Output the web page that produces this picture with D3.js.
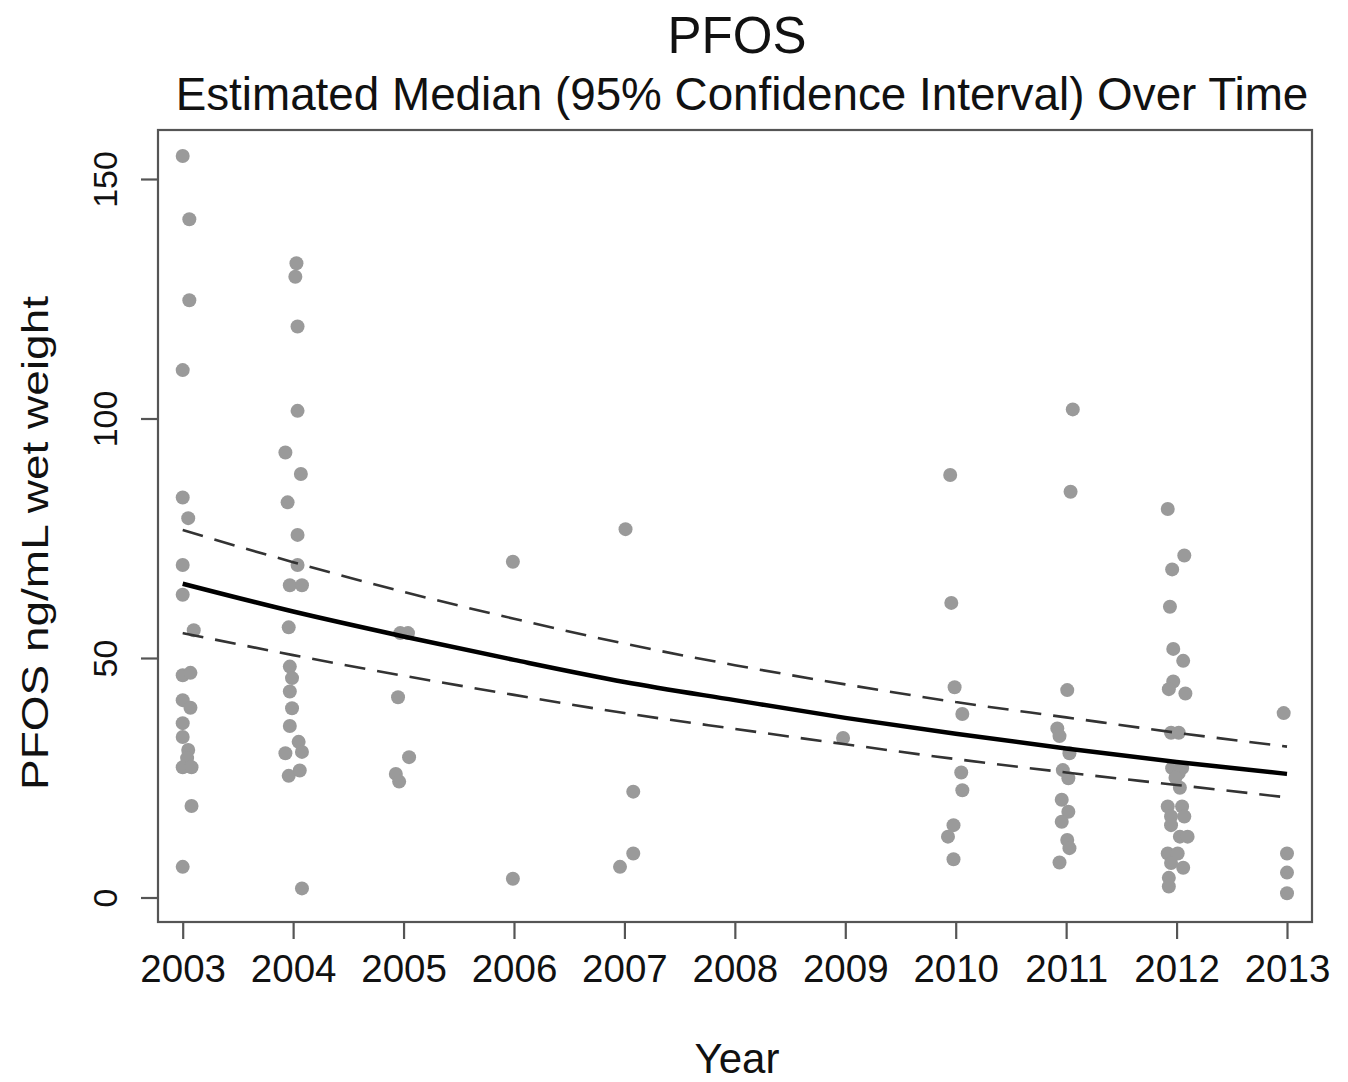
<!DOCTYPE html>
<html><head><meta charset="utf-8">
<script src="https://cdn.jsdelivr.net/npm/d3@7"></script>
<style>body{margin:0;background:#fff}svg{display:block}text{font-family:"Liberation Sans",Arial,sans-serif;fill:#111}</style>
</head><body>
<svg id="c" width="1348" height="1082"></svg>
<script>
// ---- data ----
const yearTicks = [2003,2004,2005,2006,2007,2008,2009,2010,2011,2012,2013];
const valueTicks = [0,50,100,150];
// observed samples: jittered year position, PFOS value
const sampleYears = [
 2003.00,2003.06,2003.06,2003.00,2003.00,2003.05,2003.00,2003.00,2003.10,2003.00,2003.07,2003.00,2003.07,2003.00,2003.00,2003.05,2003.04,2003.00,2003.08,2003.08,2003.00,
 2004.03,2004.02,2004.04,2004.04,2003.93,2004.07,2003.95,2004.04,2004.04,2003.97,2004.08,2003.96,2003.97,2003.99,2003.97,2003.99,2003.97,2004.05,2004.08,2003.93,2003.96,2004.06,2004.08,
 2004.97,2005.04,2004.95,2005.05,2004.93,2004.96,
 2005.99,2005.99,
 2007.01,2007.08,2007.08,2006.96,
 2008.98,
 2009.95,2009.96,2009.99,2010.06,2010.05,2010.06,2009.98,2009.93,2009.98,
 2011.06,2011.04,2011.01,2010.92,2010.94,2011.03,2010.97,2011.02,2010.96,2011.02,2010.96,2011.01,2011.03,2010.94,
 2011.92,2012.07,2011.96,2011.94,2011.97,2012.06,2011.97,2011.93,2012.08,2011.95,2012.02,2011.96,2012.05,2012.02,2011.99,2012.03,2011.92,2012.05,2011.95,2012.07,2011.95,2012.03,2012.10,2011.92,2012.01,2011.95,2012.06,2011.93,2011.93,
 2012.97,2013.00,2013.00,2013.00
];
const sampleValues = [
 154.8,141.6,124.7,110.1,83.5,79.2,69.4,63.2,55.8,46.4,46.9,41.2,39.6,36.4,33.5,30.8,29.1,27.2,27.2,19.1,6.4,
 132.4,129.6,119.2,101.6,92.9,88.4,82.5,75.7,69.4,65.2,65.2,56.4,48.2,45.8,43.0,39.5,35.8,32.5,30.4,30.1,25.4,26.5,1.9,
 55.2,55.2,41.8,29.3,25.8,24.2,
 70.1,3.9,
 76.9,22.1,9.2,6.4,
 33.3,
 88.2,61.5,43.9,38.3,26.1,22.4,15.1,12.7,8.0,
 101.9,84.7,43.3,35.3,33.7,30.1,26.6,24.9,20.4,17.9,15.8,12.0,10.3,7.3,
 81.1,71.4,68.5,60.7,51.9,49.4,45.1,43.5,42.6,34.4,34.4,27.0,27.0,26.0,25.0,22.9,19.0,19.0,16.9,16.9,15.1,12.7,12.7,9.2,9.2,7.2,6.2,4.1,2.3,
 38.5,9.2,5.2,0.9
];
// estimated median and 95% CI at each year
const medianEst = [65.5,59.7,54.5,49.6,45.0,41.2,37.5,34.2,31.1,28.3,25.8];
const upperCI   = [76.7,70.0,63.8,58.2,53.0,48.5,44.5,40.8,37.6,34.4,31.5];
const lowerCI   = [55.2,50.6,46.3,42.3,38.5,35.2,32.0,28.9,26.1,23.5,20.9];

// ---- drawing ----
const svg = d3.select("#c");
const box = {l:158, r:1312, t:130, b:922};
const x = d3.scaleLinear().domain([2003,2013]).range([182.7,1287]);
const y = d3.scaleLinear().domain([0,150]).range([897.5,179]);
const axisCol = "#555";

// points
svg.append("g").selectAll("circle").data(sampleValues).join("circle")
  .attr("cx",(d,i)=>x(sampleYears[i])).attr("cy",d=>y(d)).attr("r",7)
  .attr("fill","#9a9a9a");

// lines
const line = d3.line().x((d,i)=>x(yearTicks[i])).y(d=>y(d)).curve(d3.curveMonotoneX);
svg.append("path").attr("d",line(upperCI)).attr("fill","none").attr("stroke","#333").attr("stroke-width",2.6).attr("stroke-dasharray","21,12");
svg.append("path").attr("d",line(lowerCI)).attr("fill","none").attr("stroke","#333").attr("stroke-width",2.6).attr("stroke-dasharray","21,12");
svg.append("path").attr("d",line(medianEst)).attr("fill","none").attr("stroke","#000").attr("stroke-width",4.5);

// box
svg.append("rect").attr("x",box.l).attr("y",box.t).attr("width",box.r-box.l).attr("height",box.b-box.t)
  .attr("fill","none").attr("stroke",axisCol).attr("stroke-width",2.2);

// x axis
const xa = svg.append("g").attr("transform",`translate(0,${box.b})`)
  .call(d3.axisBottom(x).tickValues(yearTicks).tickFormat(d3.format("d")).tickSize(17).tickPadding(16));
xa.select(".domain").remove();
xa.selectAll("line").attr("stroke",axisCol).attr("stroke-width",2.2);
xa.selectAll("text").attr("font-size",38.5).attr("fill","#111").attr("font-family","Liberation Sans, Arial, sans-serif");

// y axis
const ya = svg.append("g").attr("transform",`translate(${box.l},0)`)
  .call(d3.axisLeft(y).tickValues(valueTicks).tickSize(17).tickFormat(d3.format("d")));
ya.select(".domain").remove();
ya.selectAll("line").attr("stroke",axisCol).attr("stroke-width",2.2);
ya.selectAll("text").attr("font-size",34).attr("fill","#111").attr("font-family","Liberation Sans, Arial, sans-serif")
  .attr("x",null).attr("dy",null).attr("text-anchor","middle")
  .attr("transform","translate(-41,0) rotate(-90)");

// titles
svg.append("text").attr("x",737).attr("y",53).attr("text-anchor","middle").attr("font-size",51).text("PFOS");
svg.append("text").attr("x",742).attr("y",110).attr("text-anchor","middle").attr("font-size",45.8)
  .text("Estimated Median (95% Confidence Interval) Over Time");
svg.append("text").attr("x",737).attr("y",1073).attr("text-anchor","middle").attr("font-size",42).text("Year");
svg.append("text").attr("text-anchor","middle").attr("font-size",46)
  .attr("transform","translate(48,543) scale(0.82,1) rotate(-90)").text("PFOS ng/mL wet weight");
</script>
</body></html>
